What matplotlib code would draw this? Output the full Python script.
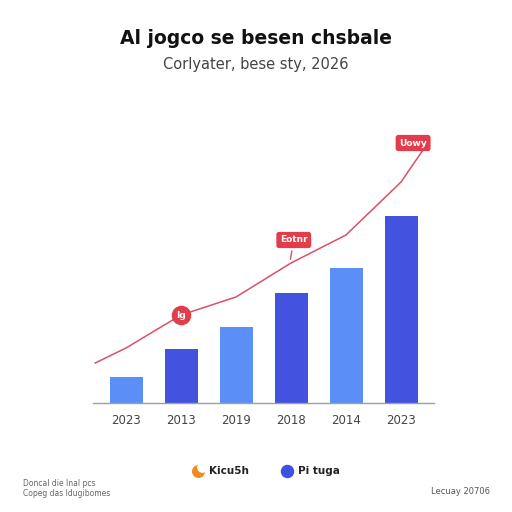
import matplotlib.pyplot as plt
import numpy as np

# data
years = ["2023", "2013", "2019", "2018", "2014", "2023"]
bar_values = [26, 54, 76, 110, 135, 187]
bar_colors = ["#5b8ff7", "#4353e0", "#5b8ff7", "#4353e0", "#5b8ff7", "#4353e0"]

line_x = [-0.56, 0, 1, 2, 3, 4, 5, 5.4]
line_y = [40, 55, 88, 106, 140, 168, 221, 253]

title = "Al jogco se besen chsbale"
subtitle = "Corlyater, bese sty, 2026"
legend_labels = ["Kicu5h", "Pi tuga"]
note_left = ["Doncal die Inal pcs", "Copeg das Idugibomes"]
note_right = "Lecuay 20706"

red = "#e23d4b"
line_red = "#d9506a"

fig = plt.figure(figsize=(5.12, 5.12), dpi=100)
ax = fig.add_axes([93 / 512, 109 / 512, 341 / 512, 270 / 512])

x = np.arange(len(years))
ax.bar(x, bar_values, width=0.6, color=bar_colors, zorder=2)
ax.plot(line_x, line_y, color=line_red, lw=1.1, zorder=3)

ax.set_xlim(-0.6, 5.6)
ax.set_ylim(0, 270)
ax.set_xticks(x)
ax.set_xticklabels(years, fontsize=8.5, color="#444444")
ax.tick_params(axis="x", length=0, pad=8)
ax.set_yticks([])
for s in ["top", "right", "left"]:
    ax.spines[s].set_visible(False)
ax.spines["bottom"].set_color("#9aa0aa")
ax.spines["bottom"].set_linewidth(1)

# callouts on the line
ax.scatter([1], [88], s=170, color=red, zorder=4)
ax.text(1, 88, "Ig", color="white", fontsize=6.5, fontweight="bold",
        ha="center", va="center", zorder=5)

box = dict(boxstyle="round,pad=0.4,rounding_size=0.3", fc=red, ec="none")
ax.annotate("Eotnr", xy=(2.98, 141), xytext=(3.05, 163), fontsize=6.5,
            color="white", fontweight="bold", ha="center", va="center",
            bbox=box, zorder=5,
            arrowprops=dict(arrowstyle="-", color=line_red, lw=1))
ax.annotate("Uowy", xy=(5.4, 253), xytext=(5.22, 260), fontsize=6.5,
            color="white", fontweight="bold", ha="center", va="center",
            bbox=box, zorder=5,
            arrowprops=dict(arrowstyle="-", color=line_red, lw=1))

# titles
fig.text(0.5, 1 - 38 / 512, title, ha="center", va="center",
         fontsize=13.5, fontweight="bold", color="#111111")
fig.text(0.5, 1 - 65 / 512, subtitle, ha="center", va="center",
         fontsize=10.5, color="#444444")

# legend drawn by hand
lax = fig.add_axes([0, 0, 1, 1], facecolor="none")
lax.set_xlim(0, 512)
lax.set_ylim(512, 0)
lax.axis("off")
lax.scatter([198], [471], s=70, color="#f28a1e")
lax.scatter([202], [467], s=45, color="white")
lax.text(209, 471, legend_labels[0], fontsize=7.5, fontweight="bold",
         va="center", color="#222222")
lax.scatter([287], [471], s=75, color="#3f51e0")
lax.text(298, 471, legend_labels[1], fontsize=7.5, fontweight="bold",
         va="center", color="#222222")

# footer notes
lax.text(23, 484, note_left[0], fontsize=5.5, va="center", color="#666666")
lax.text(23, 494, note_left[1], fontsize=5.5, va="center", color="#666666")
lax.text(490, 491, note_right, fontsize=6, va="center", ha="right",
         color="#555555")

fig.savefig("out.png", dpi=100, facecolor="white")
